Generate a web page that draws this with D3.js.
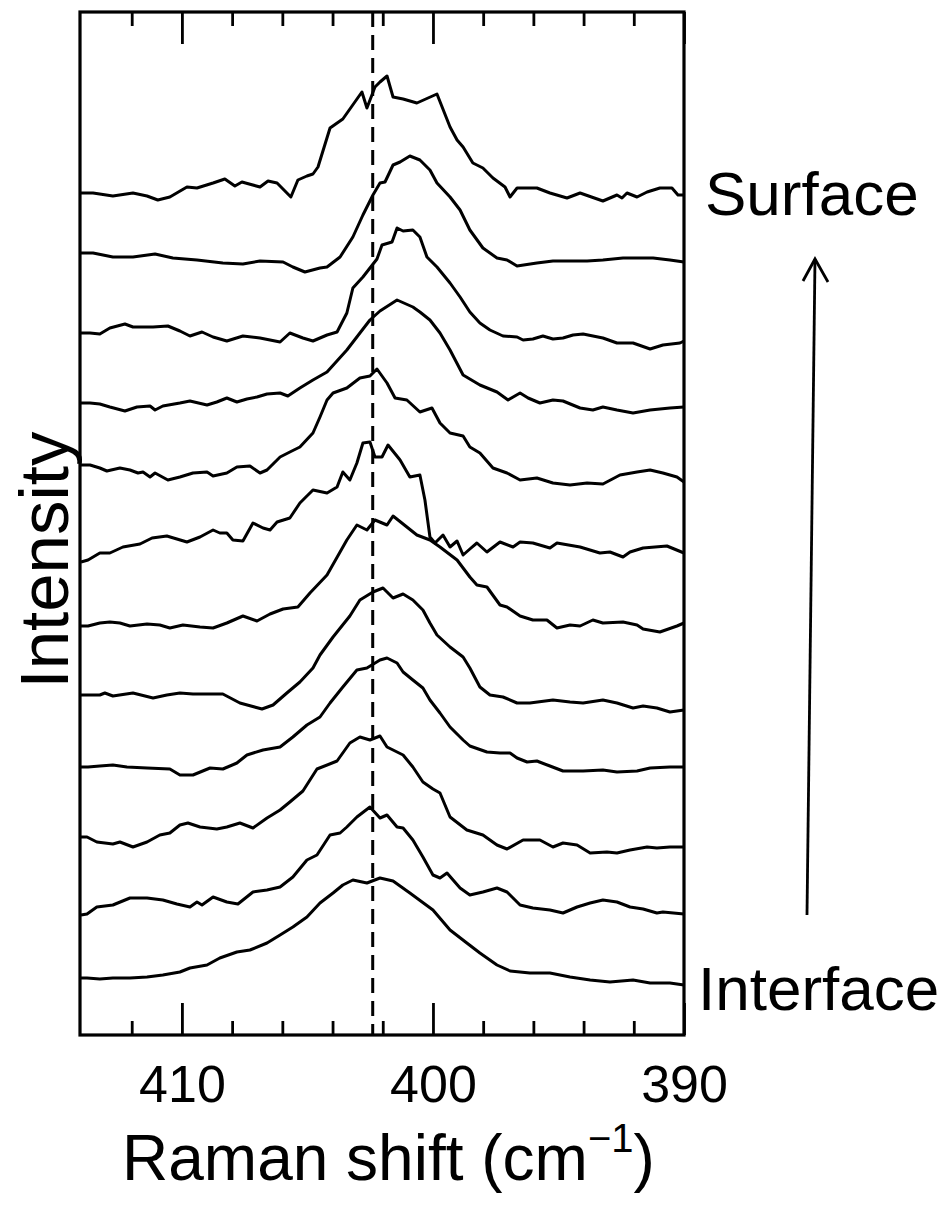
<!DOCTYPE html>
<html>
<head>
<meta charset="utf-8">
<script src="https://cdn.jsdelivr.net/npm/d3@7"></script>
<style>
body { margin: 0; background: #fff; }
svg { display: block; }
text { font-family: "Liberation Sans", Arial, Helvetica, sans-serif; fill: #000; }
</style>
</head>
<body>
<div id="chart"></div>
<script>
// x axis (Raman shift, cm-1)
var majorTicks = [410, 400, 390];
var minorTicks = [412, 408, 406, 404, 402, 398, 396, 394, 392];
var shiftDomain = [414.06, 390];
var peakRef = 402.4;
var depthLabels = ["Surface", "Interface"];

// spectra from surface (top) to interface (bottom): [Raman shift, intensity (a.u., offset included)]
var s01 = [[414.02,84.2],[413.54,84.2],[412.75,83.9],[411.95,84.2],[411.39,83.9],[410.96,83.5],[410.48,83.8],[409.80,84.8],[409.40,84.7],[408.76,85.2],[408.29,85.6],[407.89,84.9],[407.61,85.3],[406.89,84.8],[406.57,85.4],[406.21,85.2],[405.66,83.8],[405.38,85.5],[405.02,85.9],[404.78,86.1],[404.58,86.8],[404.10,90.7],[403.59,91.6],[402.83,94.3],[402.63,92.7],[402.31,94.8],[402.11,95.3],[401.83,95.9],[401.59,93.8],[401.19,93.6],[400.64,93.2],[399.84,94.1],[399.32,90.8],[399.04,89.5],[398.80,88.8],[398.41,87.2],[398.01,86.7],[397.61,85.7],[397.13,84.8],[396.93,83.8],[396.65,84.7],[395.86,84.7],[395.34,84.2],[394.66,83.7],[394.14,84.2],[393.23,83.4],[392.67,84.0],[392.47,83.7],[392.27,84.2],[391.87,83.8],[391.47,84.3],[390.96,84.7],[390.48,84.7],[390.24,84.0],[390.00,84.0]];
var s02 = [[414.02,78.2],[413.54,78.2],[412.75,77.8],[411.95,77.8],[411.07,78.1],[410.36,77.7],[409.40,77.5],[408.37,77.2],[407.57,77.1],[406.89,77.4],[405.97,77.3],[405.58,76.8],[405.10,76.3],[404.50,76.7],[404.22,76.8],[403.70,77.8],[403.19,79.8],[402.79,82.0],[402.39,84.0],[402.11,85.2],[401.91,85.3],[401.59,87.0],[401.31,87.3],[400.92,87.9],[400.52,87.5],[400.12,86.5],[399.84,85.2],[399.32,83.8],[398.92,82.5],[398.53,80.5],[398.01,78.7],[397.45,77.7],[397.05,77.5],[396.65,76.9],[395.86,77.2],[395.22,77.4],[393.86,77.4],[393.23,77.5],[392.43,77.7],[391.23,77.7],[390.56,77.5],[390.00,77.3]];
var s03 = [[414.02,70.2],[413.66,70.2],[413.27,70.1],[412.87,70.7],[412.27,71.1],[411.95,70.8],[411.15,70.8],[410.56,70.9],[410.08,70.4],[409.68,69.9],[409.20,70.3],[408.76,69.8],[408.21,69.4],[407.57,69.9],[406.89,69.7],[406.09,69.3],[405.70,70.2],[405.18,69.7],[404.78,69.4],[404.22,70.0],[403.82,70.3],[403.43,72.2],[403.19,74.7],[402.79,75.8],[402.23,77.6],[402.03,79.0],[401.63,79.3],[401.43,80.7],[401.19,80.4],[400.80,80.5],[400.52,79.8],[400.24,77.8],[399.84,76.8],[399.32,75.2],[398.92,73.8],[398.53,72.3],[398.13,71.2],[397.73,70.5],[397.21,69.9],[396.65,69.8],[396.41,69.5],[396.02,69.6],[395.62,69.9],[395.22,69.6],[394.82,69.7],[394.42,70.0],[394.02,70.1],[393.23,69.7],[392.67,69.2],[392.03,69.2],[391.35,68.6],[390.84,69.0],[390.16,69.2],[390.00,69.4]];
var s04 = [[414.02,63.2],[413.66,63.2],[413.27,63.1],[412.87,62.8],[412.27,62.4],[411.79,62.8],[411.27,62.9],[411.07,62.5],[410.76,62.9],[410.08,63.2],[409.68,63.4],[409.00,63.0],[408.61,63.3],[408.21,63.7],[407.81,63.3],[407.41,63.6],[407.01,63.8],[406.61,64.1],[406.09,64.2],[405.78,63.9],[405.30,64.7],[404.78,65.5],[404.22,66.3],[403.43,68.5],[402.91,70.2],[402.51,71.5],[402.11,72.4],[401.43,73.5],[400.80,72.8],[400.52,72.3],[400.12,71.5],[399.72,70.2],[399.32,68.5],[398.80,66.0],[398.13,65.0],[397.45,64.3],[397.01,63.5],[396.53,64.2],[396.21,63.7],[395.74,63.2],[395.22,63.5],[394.82,63.4],[394.14,62.7],[393.63,62.5],[393.23,62.8],[392.67,62.5],[392.03,62.2],[391.35,62.5],[390.56,62.7],[390.00,62.8]];
var s05 = [[414.02,57.0],[413.66,57.0],[413.27,56.7],[412.99,56.4],[412.47,56.7],[412.07,56.5],[411.75,56.2],[411.55,56.3],[411.27,55.8],[411.07,56.2],[410.56,55.5],[410.08,55.8],[409.56,56.2],[409.00,56.3],[408.76,55.9],[408.21,56.2],[407.81,56.8],[407.29,56.9],[406.89,56.2],[406.61,56.5],[406.09,57.8],[405.70,58.3],[405.30,58.8],[404.78,60.2],[404.50,61.8],[404.22,63.5],[403.98,64.2],[403.43,64.7],[402.91,65.7],[402.51,65.9],[402.23,66.6],[401.83,65.2],[401.51,63.7],[401.04,63.5],[400.52,62.3],[400.04,62.7],[399.72,61.2],[399.32,60.2],[398.80,59.9],[398.53,58.8],[398.13,58.2],[397.61,56.7],[397.05,56.2],[396.53,55.5],[395.86,55.7],[395.22,55.2],[394.54,55.0],[393.86,55.2],[393.23,55.1],[392.55,56.0],[391.87,56.3],[391.35,56.5],[390.84,56.2],[390.28,55.8],[390.00,55.3]];
var s06 = [[414.02,47.3],[413.74,47.5],[413.27,48.2],[412.87,48.2],[412.35,48.8],[411.67,49.1],[411.19,49.7],[410.60,49.9],[410.20,49.6],[409.80,49.3],[409.28,49.8],[408.76,50.5],[408.49,50.2],[408.21,50.2],[407.97,49.5],[407.57,49.4],[407.17,51.2],[406.77,50.7],[406.49,50.5],[406.21,51.3],[405.70,51.7],[405.30,53.2],[404.78,54.5],[404.22,54.2],[403.82,54.8],[403.59,56.3],[403.31,55.5],[403.03,57.2],[402.79,59.2],[402.51,59.3],[402.31,57.8],[402.03,57.8],[401.79,59.0],[401.31,57.5],[400.92,55.8],[400.52,56.0],[400.32,53.5],[400.12,49.8],[399.92,49.2],[399.60,50.0],[399.32,48.8],[399.04,49.4],[398.80,48.0],[398.53,48.6],[398.25,49.2],[397.85,48.3],[397.33,49.3],[396.81,48.8],[396.53,49.3],[396.02,49.2],[395.34,48.7],[395.06,49.2],[394.14,48.8],[393.35,48.2],[392.95,48.3],[392.43,47.8],[392.15,48.3],[391.63,48.7],[390.68,48.9],[390.00,48.2]];
var s07 = [[414.02,40.9],[413.74,40.9],[413.27,41.2],[412.87,41.3],[412.47,41.2],[412.07,40.9],[411.39,41.1],[410.88,41.0],[410.48,40.7],[409.96,41.0],[409.28,40.8],[408.76,40.7],[408.21,41.2],[407.57,41.9],[407.01,41.4],[406.49,42.1],[405.97,42.6],[405.38,42.8],[404.90,44.2],[404.22,46.0],[403.43,49.5],[403.03,51.0],[402.63,50.5],[402.31,51.5],[401.83,51.0],[401.59,51.9],[401.19,51.1],[400.64,50.0],[400.12,49.5],[399.72,48.8],[399.04,47.5],[398.53,45.8],[398.25,45.0],[397.85,44.8],[397.33,43.0],[397.05,42.8],[396.53,41.9],[396.02,41.5],[395.46,41.5],[395.06,40.7],[394.54,41.0],[394.14,40.9],[393.63,41.5],[393.23,41.2],[392.43,41.3],[391.87,41.0],[391.63,40.6],[390.96,40.3],[390.28,40.9],[390.00,41.2]];
var s08 = [[414.02,34.0],[413.74,34.0],[413.27,34.0],[413.07,34.2],[412.75,33.9],[411.95,34.2],[411.15,33.7],[410.60,34.0],[410.08,34.2],[409.56,34.1],[408.37,34.1],[407.69,33.2],[406.81,32.6],[406.37,33.0],[405.82,34.2],[405.30,35.3],[404.78,36.7],[404.50,38.0],[403.98,39.8],[403.31,41.9],[402.91,43.5],[402.39,44.3],[401.99,44.7],[401.59,43.7],[401.19,44.1],[400.80,43.5],[400.40,42.5],[400.12,41.2],[399.84,40.0],[399.32,38.8],[398.80,37.8],[398.53,36.7],[398.13,34.8],[397.73,34.0],[397.21,33.8],[396.65,33.2],[396.14,33.2],[395.22,33.5],[394.54,33.3],[394.02,33.2],[393.23,33.5],[392.67,33.2],[392.03,32.7],[391.63,32.9],[391.08,32.7],[390.56,32.3],[390.00,32.5]];
var s09 = [[414.02,26.8],[413.74,26.8],[413.27,26.9],[412.75,27.0],[412.19,26.8],[411.39,26.7],[410.48,26.6],[410.08,26.0],[409.56,26.0],[408.88,26.7],[408.37,26.6],[407.81,27.2],[407.41,28.0],[406.77,28.5],[406.09,28.8],[405.58,29.8],[405.02,31.0],[404.50,31.8],[404.10,33.2],[403.59,34.8],[403.03,36.5],[402.63,36.7],[402.11,37.5],[401.83,37.7],[401.43,37.2],[401.19,36.3],[400.80,35.5],[400.40,34.7],[400.12,33.5],[399.72,32.2],[399.32,30.8],[398.80,29.5],[398.53,28.9],[397.85,28.3],[397.33,28.2],[396.93,28.2],[396.65,27.7],[396.25,27.3],[395.86,27.4],[395.34,26.9],[394.82,26.4],[394.02,26.4],[393.23,26.5],[392.67,26.3],[391.87,26.4],[391.35,26.7],[390.56,26.8],[390.00,26.8]];
var s10 = [[414.02,19.8],[413.78,19.8],[413.39,19.3],[412.75,19.1],[412.47,19.3],[411.95,18.8],[411.39,19.3],[410.88,20.0],[410.48,20.2],[410.08,21.0],[409.76,21.2],[409.28,20.8],[408.61,20.6],[408.21,20.8],[407.69,21.2],[407.17,20.7],[406.61,21.7],[406.09,22.5],[405.70,23.3],[405.18,24.4],[404.62,26.6],[403.82,27.4],[403.31,29.2],[402.91,29.8],[402.51,29.5],[402.11,29.9],[401.83,28.8],[401.19,28.0],[400.80,26.8],[400.40,25.3],[400.00,24.6],[399.72,24.2],[399.32,21.8],[398.65,20.5],[398.01,20.0],[397.45,19.0],[397.05,18.6],[396.41,19.5],[395.74,19.5],[395.22,18.8],[394.82,19.2],[394.26,19.0],[393.74,18.2],[393.07,18.3],[392.67,18.2],[392.15,18.5],[391.47,18.8],[391.08,18.7],[390.56,18.8],[390.00,18.8]];
var s11 = [[414.02,12.0],[413.78,12.1],[413.39,12.8],[412.75,13.0],[412.07,13.7],[411.39,13.7],[410.76,13.5],[410.20,13.1],[409.68,12.8],[409.40,13.3],[409.20,13.0],[408.76,13.8],[408.21,13.3],[407.77,13.1],[407.17,14.3],[406.61,14.5],[406.09,14.8],[405.58,15.8],[405.02,17.5],[404.62,18.0],[404.10,20.0],[403.70,20.2],[403.43,20.8],[403.03,21.8],[402.51,22.8],[402.11,21.7],[401.83,22.0],[401.43,20.8],[401.19,20.7],[400.80,19.5],[400.40,17.8],[400.00,16.0],[399.72,15.7],[399.44,16.2],[398.92,14.7],[398.53,14.0],[398.01,14.3],[397.45,14.7],[397.05,14.3],[396.53,13.0],[396.02,12.7],[395.34,12.5],[394.82,12.2],[394.26,12.8],[393.74,13.2],[393.23,13.5],[392.67,13.3],[392.15,12.8],[391.63,12.6],[391.08,12.2],[390.84,12.3],[390.00,12.1]];
var s12 = [[414.02,5.7],[413.78,5.7],[413.27,5.6],[412.75,5.7],[412.07,5.7],[411.39,5.8],[410.76,6.0],[410.08,6.3],[409.68,6.7],[409.00,7.0],[408.49,7.7],[407.81,8.3],[407.29,8.5],[406.61,9.2],[406.09,10.0],[405.58,10.8],[405.02,11.8],[404.50,13.2],[403.98,14.2],[403.59,15.0],[403.19,15.5],[402.63,15.2],[402.11,15.7],[401.59,15.4],[400.92,14.2],[400.00,12.5],[399.32,10.5],[398.65,9.2],[398.13,8.2],[397.45,7.0],[396.93,6.4],[396.14,6.2],[395.34,6.2],[394.54,5.8],[393.74,5.5],[392.95,5.3],[392.03,5.5],[391.35,5.2],[390.56,5.2],[390.00,5.0]];
var spectra = [s01, s02, s03, s04, s05, s06, s07, s08, s09, s10, s11, s12];

var width = 948, height = 1217;
var plotLeft = 80, plotRight = 684, plotTop = 12, plotBottom = 1035;

var svg = d3.select("#chart").append("svg")
	.attr("width", width)
	.attr("height", height);

svg.append("rect").attr("width", width).attr("height", height).attr("fill", "#fff");

var x = d3.scaleLinear().domain(shiftDomain).range([plotLeft, plotRight]);
var y = d3.scaleLinear().domain([0, 102.3]).range([plotBottom, plotTop]);

//spectra
var line = d3.line()
	.x(function(d) { return x(d[0]); })
	.y(function(d) { return y(d[1]); });

svg.append("g")
	.selectAll("path")
	.data(spectra)
	.enter()
	.append("path")
	.attr("d", line)
	.attr("fill", "none")
	.attr("stroke", "#000")
	.attr("stroke-width", 3)
	.attr("stroke-linejoin", "round");

//dashed reference line
svg.append("line")
	.attr("x1", x(peakRef)).attr("x2", x(peakRef))
	.attr("y1", plotTop).attr("y2", plotBottom)
	.attr("stroke", "#000")
	.attr("stroke-width", 3)
	.attr("stroke-dasharray", "15,8");

//ticks, bottom and top, pointing inwards
function tickAxis(axis, g, size, labels) {
	axis.tickSizeInner(size).tickSizeOuter(0).tickPadding(30);
	if (!labels) axis.tickFormat("");
	g.call(axis);
	g.select(".domain").remove();
	g.selectAll(".tick line").attr("stroke", "#000").attr("stroke-width", 2.8);
}
var gb = svg.append("g").attr("transform", "translate(0," + plotBottom + ")");
tickAxis(d3.axisBottom(x).tickValues(majorTicks).tickFormat(d3.format("d")), gb, -32, true);
tickAxis(d3.axisBottom(x).tickValues(minorTicks), svg.append("g").attr("transform", "translate(0," + plotBottom + ")"), -14, false);
tickAxis(d3.axisTop(x).tickValues(majorTicks), svg.append("g").attr("transform", "translate(0," + plotTop + ")"), -32, false);
tickAxis(d3.axisTop(x).tickValues(minorTicks), svg.append("g").attr("transform", "translate(0," + plotTop + ")"), -14, false);
gb.selectAll(".tick text")
	.attr("font-size", 52)
	.attr("font-family", "Liberation Sans, Arial, sans-serif")
	.attr("fill", "#000");

//frame
svg.append("rect")
	.attr("x", plotLeft).attr("y", plotTop)
	.attr("width", plotRight - plotLeft).attr("height", plotBottom - plotTop)
	.attr("fill", "none")
	.attr("stroke", "#000")
	.attr("stroke-width", 3.2);

//axis titles
var xt = svg.append("text")
	.attr("x", 122)
	.attr("y", 1180)
	.attr("font-size", 64);
xt.append("tspan").text("Raman shift (cm");
xt.append("tspan").attr("font-size", 40).attr("dy", -28).text("\u22121");
xt.append("tspan").attr("dy", 28).text(")");

svg.append("text")
	.attr("transform", "translate(68,560) rotate(-90)")
	.attr("text-anchor", "middle")
	.attr("font-size", 69)
	.text("Intensity");

//depth labels and arrow
svg.append("text").attr("x", 705).attr("y", 215).attr("font-size", 62).text(depthLabels[0]);
svg.append("text").attr("x", 698).attr("y", 1010).attr("font-size", 62).text(depthLabels[1]);

var arrow = svg.append("g").attr("stroke", "#000").attr("stroke-width", 2.8).attr("fill", "none");
arrow.append("line").attr("x1", 807).attr("y1", 915).attr("x2", 815).attr("y2", 259);
arrow.append("polyline").attr("points", "803,281 815,259 828,282");
</script>
</body>
</html>
